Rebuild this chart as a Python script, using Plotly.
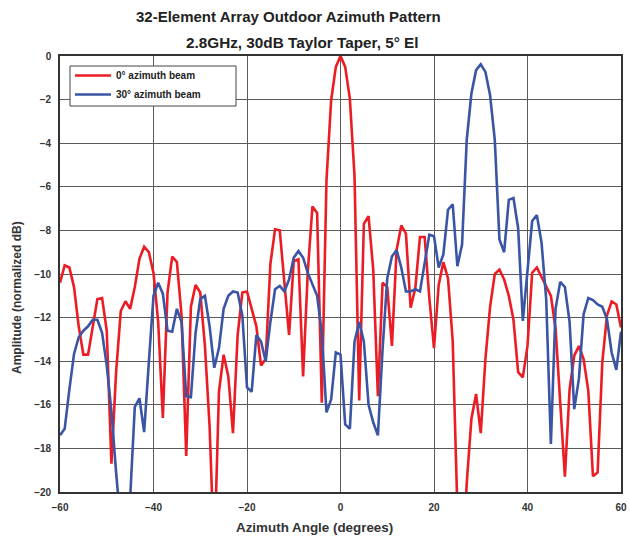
import plotly.graph_objects as go

angles = list(range(-60, 61))

beam_0deg = [
    -10.4, -9.6, -9.7, -10.6, -12.4, -13.7, -13.7, -12.4, -11.15, -11.1,   # -60..-51
    -12.6, -18.7, -14.5, -11.7, -11.25, -11.6, -10.6, -9.3, -8.75, -9.0,   # -50..-41
    -9.95, -12.2, -16.6, -10.85, -9.2, -9.45, -11.9, -18.35, -11.5, -10.5, # -40..-31
    -10.85, -13.3, -17.0, -23.0, -15.4, -13.7, -14.7, -17.3, -12.8, -10.85, # -30..-21
    -10.8, -11.6, -12.4, -14.2, -13.9, -9.55, -7.95, -8.0, -10.5, -12.8,   # -20..-11
    -9.4, -9.33, -14.7, -9.9, -6.9, -7.2, -15.9, -5.7, -2.03, -0.5,         # -10..-1
    0.0,                                                                    # 0
    -0.5, -1.95, -5.5, -15.8, -7.7, -7.35, -9.8, -15.6, -10.4, -10.6,       # 1..10
    -13.3, -8.9, -7.77, -8.15, -11.55, -10.65, -8.3, -8.3, -11.1, -13.4,   # 11..20
    -10.5, -9.46, -10.2, -13.07, -20.8, -24.0, -19.6, -16.65, -15.5, -17.3, # 21..30
    -13.9, -11.5, -10.0, -9.8, -10.25, -11.0, -12.1, -14.5, -14.74, -13.3, # 31..40
    -9.94, -9.7, -10.16, -10.58, -11.0, -12.5, -15.7, -19.3, -15.3, -13.75, # 41..50
    -13.3, -13.9, -15.35, -19.28, -19.1, -14.05, -11.9, -11.26, -11.4, -12.45, # 51..60
]

beam_30deg = [
    -17.4, -17.1, -15.3, -13.67, -12.9, -12.6, -12.4, -12.1, -12.1, -12.7, # -60..-51
    -14.2, -16.3, -19.1, -22.0, -24.0, -20.3, -16.1, -15.7, -17.25, -14.05, # -50..-41
    -11.0, -10.4, -10.9, -12.6, -12.65, -11.6, -12.2, -15.6, -15.65, -12.7, # -40..-31
    -11.15, -11.0, -12.4, -14.3, -13.4, -11.6, -11.0, -10.8, -10.85, -11.9, # -30..-21
    -15.2, -15.4, -12.8, -13.1, -14.0, -12.2, -10.7, -10.55, -10.8, -10.25, # -20..-11
    -9.25, -8.95, -9.25, -9.95, -10.5, -11.0, -12.7, -16.35, -15.75, -13.6, # -10..-1
    -13.7,                                                                  # 0
    -16.9, -17.1, -13.1, -12.2, -13.1, -16.0, -16.8, -17.4, -13.45, -10.2, # 1..10
    -9.2, -8.9, -9.7, -10.8, -10.8, -10.7, -10.8, -9.5, -8.2, -8.27,       # 11..20
    -9.7, -9.1, -7.05, -6.8, -9.64, -8.65, -3.85, -1.72, -0.65, -0.38,     # 21..30
    -0.73, -1.8, -3.85, -8.42, -9.0, -6.6, -6.52, -7.9, -12.15, -9.85,     # 31..40
    -7.57, -7.3, -8.56, -11.15, -17.8, -11.6, -10.36, -10.6, -12.2, -16.2, # 41..50
    -14.8, -11.85, -11.1, -11.2, -11.4, -11.5, -12.07, -13.6, -14.4, -12.65, # 51..60
]

x_ticks = [-60, -40, -20, 0, 20, 40, 60]
y_ticks = [0, -2, -4, -6, -8, -10, -12, -14, -16, -18, -20]

title_line1 = "32-Element Array Outdoor Azimuth Pattern"
title_line2 = "2.8GHz, 30dB Taylor Taper, 5° El"
series_names = ["0° azimuth beam", "30° azimuth beam"]

RED = "#ec1c24"
BLUE = "#3b55a5"
FONT = "Liberation Sans, Arial, sans-serif"

fig = go.Figure()
fig.add_trace(go.Scatter(x=angles, y=beam_0deg, mode="lines", name=series_names[0],
                         line=dict(color=RED, width=2.6)))
fig.add_trace(go.Scatter(x=angles, y=beam_30deg, mode="lines", name=series_names[1],
                         line=dict(color=BLUE, width=2.6)))

W, H = 629, 540
# target plot area in window pixels
PL, PR, PT, PB = 60, 621, 56, 492
L, T, R, B = PL, PT, W - PR, H - PB
pw, ph = PR - PL, PB - PT

def px2x(px):
    return (px - PL) / pw

def py2y(py):
    return (PB - py) / ph

axis_common = dict(
    showgrid=True, gridcolor="#5a5a5a", gridwidth=1.2,
    showline=True, linecolor="#333333", linewidth=1.6, mirror=True,
    zeroline=False, automargin=False,
    ticks="outside", ticklen=5, tickcolor="rgba(0,0,0,0)",
    tickfont=dict(family=FONT, size=10, color="#333333", weight="bold"),
)

fig.update_layout(
    width=W, height=H, autosize=False,
    margin=dict(l=L, r=R, t=T, b=B, pad=0),
    paper_bgcolor="white", plot_bgcolor="white",
    font=dict(family=FONT, color="#222222"),
    xaxis=dict(range=[-60, 60], tickvals=x_ticks, **axis_common),
    yaxis=dict(range=[-20, 0], tickvals=y_ticks, **axis_common),
    showlegend=True,
    legend=dict(
        x=px2x(70), y=py2y(61), xanchor="left", yanchor="top",
        bgcolor="rgba(0,0,0,0)", borderwidth=0,
        font=dict(family=FONT, size=10, color="#222222", weight="bold"),
        itemwidth=36, tracegroupgap=0,
    ),
    shapes=[dict(type="rect", xref="paper", yref="paper",
                 x0=px2x(70), x1=px2x(236), y0=py2y(106), y1=py2y(66),
                 fillcolor="white", line=dict(color="#444444", width=1), layer="above")],
    annotations=[
        dict(text=title_line1, x=px2x(288), y=py2y(16), xref="paper", yref="paper",
             showarrow=False, xanchor="center", yanchor="middle",
             font=dict(family=FONT, size=15, color="#222222", weight="bold")),
        dict(text=title_line2, x=px2x(302), y=py2y(42), xref="paper", yref="paper",
             showarrow=False, xanchor="center", yanchor="middle",
             font=dict(family=FONT, size=15.3, color="#222222", weight="bold")),
        dict(text="Azimuth Angle (degrees)", x=px2x(314), y=py2y(527), xref="paper", yref="paper",
             showarrow=False, xanchor="center", yanchor="middle",
             font=dict(family=FONT, size=13.4, color="#333333", weight="bold")),
        dict(text="Amplitude (normalized dB)", x=px2x(17), y=py2y(298), xref="paper", yref="paper",
             showarrow=False, xanchor="center", yanchor="middle", textangle=-90,
             font=dict(family=FONT, size=12, color="#333333", weight="bold")),
    ],
)

fig.write_html(
    "out.html",
    config={"responsive": False, "displayModeBar": False},
    post_script="document.body.style.margin='0';document.body.style.overflow='hidden';",
)
